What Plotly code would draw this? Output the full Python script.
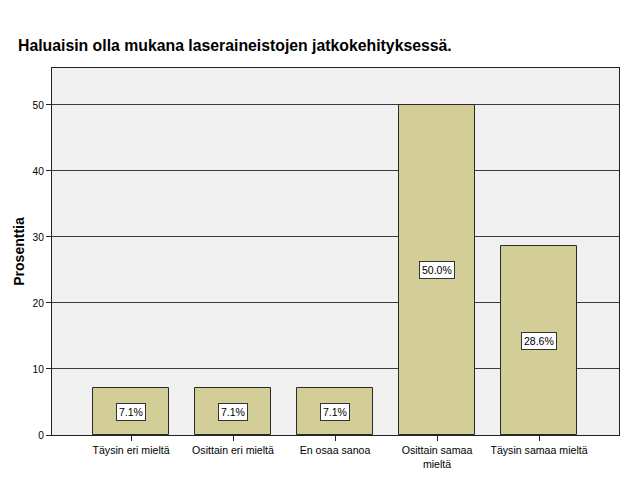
import plotly.graph_objects as go

categories = ["Täysin eri mieltä", "Osittain eri mieltä", "En osaa sanoa", "Osittain samaa<br>mieltä", "Täysin samaa mieltä"]
values = [7.1, 7.1, 7.1, 50.0, 28.6]
labels = ["7.1%", "7.1%", "7.1%", "50.0%", "28.6%"]
yticks = [0, 10, 20, 30, 40, 50]

fig = go.Figure()
fig.add_trace(go.Bar(
    x=list(range(len(categories))), y=values,
    marker=dict(color="#d3ce98", line=dict(color="#2a2a2a", width=1)),
    width=0.745, hoverinfo="skip",
))

for i, (v, t) in enumerate(zip(values, labels)):
    fig.add_annotation(x=i, y=v / 2, text=t, showarrow=False,
                       font=dict(family="Liberation Sans, Arial", size=10.5, color="black"),
                       bgcolor="white", bordercolor="#333333", borderwidth=1, borderpad=2)

fig.update_layout(
    width=626, height=501,
    margin=dict(l=52, r=7, t=68, b=66, autoexpand=False),
    paper_bgcolor="white", plot_bgcolor="#f0f0f0",
    showlegend=False,
    title=dict(text="<b>Haluaisin olla mukana laseraineistojen jatkokehityksessä.</b>",
               x=18 / 626, xanchor="left", y=1 - 45 / 501, yanchor="middle",
               font=dict(family="Liberation Sans, Arial", size=15.8, color="black")),
    font=dict(family="Liberation Sans, Arial", size=11, color="black"),
    bargap=0,
)
fig.update_xaxes(
    range=[-0.775, 4.784], tickmode="array",
    tickvals=list(range(len(categories))), ticktext=categories,
    ticks="outside", ticklen=5, tickcolor="#222222",
    showline=True, linecolor="#222222", linewidth=1, mirror=True,
    showgrid=False, zeroline=False, fixedrange=True, automargin=False,
    tickfont=dict(size=10.6),
)
fig.update_yaxes(
    range=[0, 55.6], tickmode="array", tickvals=yticks,
    ticks="outside", ticklen=5, tickcolor="#222222",
    showline=True, linecolor="#222222", linewidth=1, mirror=True,
    showgrid=True, gridcolor="#3a3a3a", gridwidth=1, zeroline=False, automargin=False,
    fixedrange=True,
    title=dict(text="<b>Prosenttia</b>", font=dict(size=14), standoff=4),
    tickfont=dict(size=10.2),
)

fig.write_html("out.html", config={"displayModeBar": False},
               post_script="document.body.style.margin='0';")
